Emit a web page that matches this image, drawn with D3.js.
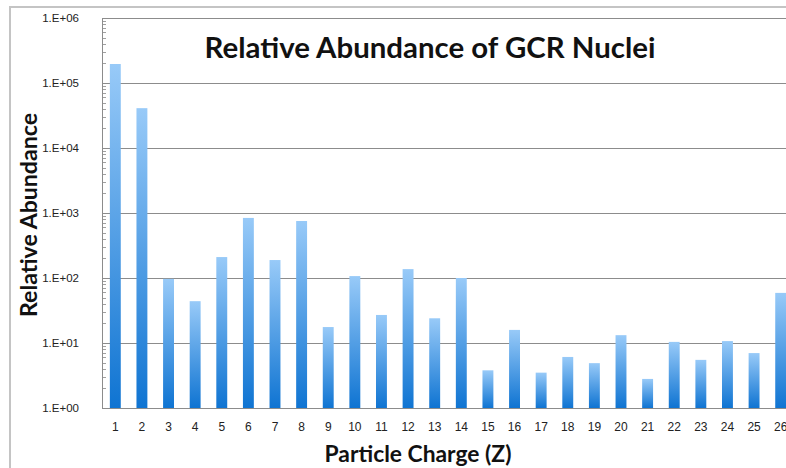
<!DOCTYPE html>
<html>
<head>
<meta charset="utf-8">
<script src="https://cdn.jsdelivr.net/npm/d3@7"></script>
<style>
  body { margin: 0; background: #fff; }
  svg { display: block; }
</style>
</head>
<body>
<div id="chart"></div>
<script>
// particle charge Z and relative abundance
const charges = [1, 2, 3, 4, 5, 6, 7, 8, 9, 10, 11, 12, 13, 14, 15, 16, 17, 18, 19, 20, 21, 22, 23, 24, 25, 26];
const abundance = [196000, 41000, 97, 44, 210, 840, 189, 753, 17.6, 107, 27, 137, 24, 100,
  3.8, 15.9, 3.5, 6.1, 4.9, 13.2, 2.8, 10.4, 5.5, 10.7, 7.0, 59];
const yTicks = [1, 10, 100, 1000, 10000, 100000, 1000000];

const width = 786;
const height = 468;
const margin = { top: 18, right: -8, bottom: 60, left: 102 };

const svg = d3.select('#chart').append('svg')
  .attr('width', width)
  .attr('height', height);

// outer chart frame
svg.append('rect')
  .attr('x', 10).attr('y', 7)
  .attr('width', 800).attr('height', 500)
  .attr('fill', 'none')
  .attr('stroke', '#c4c4c4')
  .attr('stroke-width', 2);

const x = d3.scaleBand()
  .domain(charges)
  .range([margin.left, width - margin.right])
  .paddingInner(0.59)
  .paddingOuter(0.295);

const y = d3.scaleLog()
  .domain([1, 1e6])
  .range([height - margin.bottom, margin.top]);

const grad = svg.append('defs').append('linearGradient')
  .attr('id', 'barFill')
  .attr('x1', 0).attr('y1', 0).attr('x2', 0).attr('y2', 1);
grad.append('stop').attr('offset', '0%').attr('stop-color', '#98caf8');
grad.append('stop').attr('offset', '100%').attr('stop-color', '#0f74d2');

// gridlines
svg.append('g')
  .attr('transform', `translate(${margin.left},0)`)
  .call(d3.axisLeft(y).tickValues(yTicks).tickSize(-(width - margin.right - margin.left)).tickFormat(''))
  .call(g => g.select('.domain').remove())
  .call(g => g.selectAll('line').attr('stroke', '#8c8c8c'));

// minor ticks on the value axis
const minor = [];
for (let e = 0; e < 6; e++) for (let m = 2; m <= 9; m++) minor.push(m * Math.pow(10, e));
svg.append('g')
  .selectAll('line')
  .data(minor)
  .enter().append('line')
    .attr('x1', margin.left).attr('x2', margin.left + 4)
    .attr('y1', d => Math.round(y(d)) + 0.5)
    .attr('y2', d => Math.round(y(d)) + 0.5)
    .attr('stroke', '#a0a0a0');

svg.append('g')
  .selectAll('.bar')
  .data(charges)
  .enter().append('rect')
    .attr('class', 'bar')
    .attr('x', d => x(d))
    .attr('y', (d, i) => y(abundance[i]))
    .attr('width', x.bandwidth())
    .attr('height', (d, i) => y(1) - y(abundance[i]))
    .attr('fill', 'url(#barFill)');

// axis lines
svg.append('line')
  .attr('x1', margin.left + 0.5).attr('x2', margin.left + 0.5)
  .attr('y1', y(1e6)).attr('y2', y(1))
  .attr('stroke', '#8c8c8c');
svg.append('line')
  .attr('x1', margin.left).attr('x2', width)
  .attr('y1', y(1) + 0.5).attr('y2', y(1) + 0.5)
  .attr('stroke', '#8c8c8c');

// tick labels
svg.append('g')
  .attr('transform', `translate(${margin.left - 23},0)`)
  .call(d3.axisLeft(y).tickValues(yTicks).tickSize(0)
    .tickFormat(d => '1.E+' + String(Math.round(Math.log10(d))).padStart(2, '0')))
  .call(g => g.select('.domain').remove())
  .call(g => g.selectAll('text')
    .attr('x', 0)
    .attr('font-family', 'Liberation Sans, Arial, sans-serif')
    .attr('font-size', 11.5)
    .attr('fill', '#222'));

svg.append('g')
  .attr('transform', `translate(0,${y(1) + 14})`)
  .call(d3.axisBottom(x).tickSize(0))
  .call(g => g.select('.domain').remove())
  .call(g => g.selectAll('text')
    .attr('y', 0)
    .attr('font-family', 'Liberation Sans, Arial, sans-serif')
    .attr('font-size', 12)
    .attr('fill', '#222'));

function fit(sel, target) {
  const len = sel.node().getComputedTextLength();
  const size = parseFloat(sel.attr('font-size'));
  sel.attr('font-size', size * target / len);
}

const title = svg.append('text')
  .attr('x', 430).attr('y', 58)
  .attr('text-anchor', 'middle')
  .attr('font-family', 'Lato, sans-serif')
  .attr('font-weight', 'bold')
  .attr('font-size', 30)
  .attr('fill', '#111')
  .text('Relative Abundance of GCR Nuclei');
fit(title, 451);

const xTitle = svg.append('text')
  .attr('x', 418).attr('y', 462)
  .attr('text-anchor', 'middle')
  .attr('font-family', 'Lato, sans-serif')
  .attr('font-weight', 'bold')
  .attr('font-size', 21)
  .attr('fill', '#111')
  .text('Particle Charge (Z)');
fit(xTitle, 187);

const yTitle = svg.append('text')
  .attr('transform', 'translate(37,215) rotate(-90)')
  .attr('text-anchor', 'middle')
  .attr('font-family', 'Lato, sans-serif')
  .attr('font-weight', 'bold')
  .attr('font-size', 21)
  .attr('fill', '#111')
  .text('Relative Abundance');
fit(yTitle, 204);
</script>
</body>
</html>
